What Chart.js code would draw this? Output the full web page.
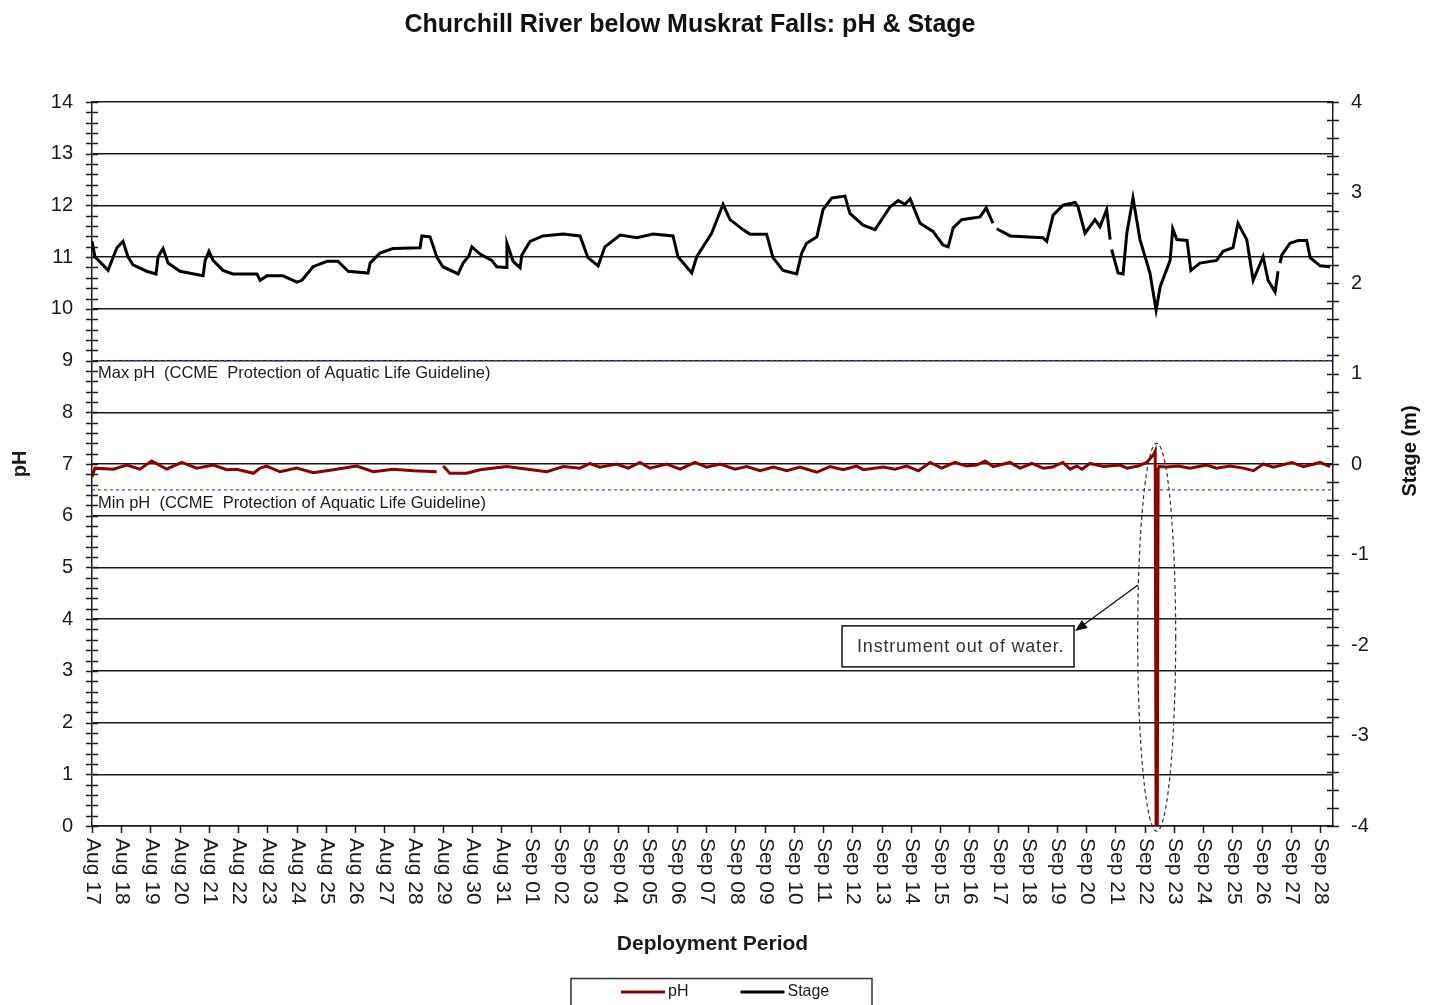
<!DOCTYPE html>
<html>
<head>
<meta charset="utf-8">
<title>Churchill River below Muskrat Falls: pH &amp; Stage</title>
<script src="https://cdn.jsdelivr.net/npm/chart.js@4.4.0/dist/chart.umd.min.js"></script>
<style>
  html, body { margin: 0; padding: 0; background: #fff; }
  #wrap { width: 1437px; height: 1005px; }
</style>
</head>
<body>
<div id="wrap"><canvas id="chart" width="1437" height="1005"></canvas></div>
<script>
// x values are days since Aug 17 00:00
var dayLabels = [
  "Aug 17", "Aug 18", "Aug 19", "Aug 20", "Aug 21", "Aug 22", "Aug 23", "Aug 24",
  "Aug 25", "Aug 26", "Aug 27", "Aug 28", "Aug 29", "Aug 30", "Aug 31", "Sep 01",
  "Sep 02", "Sep 03", "Sep 04", "Sep 05", "Sep 06", "Sep 07", "Sep 08", "Sep 09",
  "Sep 10", "Sep 11", "Sep 12", "Sep 13", "Sep 14", "Sep 15", "Sep 16", "Sep 17",
  "Sep 18", "Sep 19", "Sep 20", "Sep 21", "Sep 22", "Sep 23", "Sep 24", "Sep 25",
  "Sep 26", "Sep 27", "Sep 28"
];
var dayMax = 42.44;

var phDay = [0.00, 0.10, 0.73, 1.19, 1.64, 2.04, 2.55, 3.07, 3.58, 4.15, 4.61, 4.95, 5.52, 5.75, 5.97,
  6.43, 7.00, 7.57, 8.25, 9.05, 9.62, 10.30, 10.99, 11.79, 11.90, 12.01, 12.24, 12.81, 13.27, 14.18,
  14.64, 15.55, 16.12, 16.69, 17.03, 17.37, 17.94, 18.34, 18.74, 19.08, 19.65, 20.11, 20.62, 21.02,
  21.48, 21.99, 22.39, 22.85, 23.30, 23.76, 24.21, 24.78, 25.24, 25.69, 26.15, 26.38, 27.06, 27.46,
  27.86, 28.26, 28.66, 29.06, 29.51, 29.91, 30.26, 30.54, 30.82, 31.39, 31.74, 32.14, 32.53, 32.85,
  33.20, 33.45, 33.68, 33.85, 34.13, 34.60, 35.16, 35.39, 35.78, 36.07, 36.30, 36.36, 36.39, 36.43,
  36.46, 36.49, 36.75, 37.15, 37.55, 38.12, 38.46, 38.92, 39.37, 39.72, 40.06, 40.40, 41.03, 41.43,
  42.00, 42.34];
var phValue = [6.75, 6.92, 6.90, 6.98, 6.90, 7.06, 6.90, 7.03, 6.92, 6.98, 6.89, 6.90, 6.82, 6.92, 6.96,
  6.85, 6.92, 6.83, 6.89, 6.96, 6.85, 6.90, 6.87, 6.85, null, 6.96, 6.82, 6.82, 6.89, 6.95,
  6.92, 6.85, 6.95, 6.92, 7.01, 6.94, 7.00, 6.92, 7.03, 6.92, 7.00, 6.90, 7.03, 6.94,
  7.00, 6.90, 6.95, 6.87, 6.94, 6.87, 6.94, 6.84, 6.95, 6.89, 6.96, 6.89, 6.94, 6.90,
  6.96, 6.87, 7.03, 6.92, 7.03, 6.96, 6.98, 7.06, 6.95, 7.03, 6.92, 7.01, 6.92, 6.94,
  7.03, 6.90, 6.96, 6.90, 7.01, 6.95, 6.98, 6.92, 6.96, 7.03, 7.18, 7.25, 0.00, 0.00,
  6.90, 6.95, 6.94, 6.96, 6.92, 6.98, 6.92, 6.96, 6.92, 6.87, 7.00, 6.94, 7.03, 6.95,
  7.03, 6.95];

var stageDay = [0.00, 0.10, 0.55, 0.85, 1.06, 1.23, 1.40, 1.87, 2.19, 2.26, 2.43, 2.60, 3.01, 3.80, 3.87,
  4.00, 4.14, 4.48, 4.82, 5.64, 5.75, 5.99, 6.53, 7.01, 7.18, 7.56, 8.04, 8.41, 8.76, 9.44, 9.51,
  9.85, 10.29, 11.22, 11.28, 11.56, 11.80, 12.00, 12.52, 12.69, 12.89, 12.99, 13.27, 13.67, 13.84,
  14.16, 14.19, 14.40, 14.64, 14.70, 14.98, 15.42, 16.11, 16.69, 16.96, 17.31, 17.54, 18.06, 18.63,
  19.19, 19.87, 20.04, 20.51, 20.68, 21.19, 21.58, 21.82, 22.26, 22.50, 23.07, 23.29, 23.63, 24.10,
  24.27, 24.44, 24.79, 25.00, 25.30, 25.75, 25.92, 26.37, 26.78, 27.29, 27.57, 27.80, 27.98, 28.32,
  28.76, 29.10, 29.28, 29.45, 29.74, 30.37, 30.58, 30.81, 30.87, 30.94, 31.40, 32.52, 32.65, 32.87,
  33.21, 33.62, 33.72, 33.96, 34.30, 34.47, 34.70, 34.82, 34.84, 34.87, 35.09, 35.26, 35.39, 35.60,
  35.84, 36.18, 36.39, 36.53, 36.87, 36.96, 37.10, 37.45, 37.58, 37.89, 38.46, 38.68, 39.02, 39.19,
  39.49, 39.71, 40.05, 40.22, 40.46, 40.56, 40.60, 40.63, 40.69, 40.97, 41.25, 41.54, 41.66, 42.00,
  42.34];
var stageValue = [2.46, 2.29, 2.14, 2.39, 2.46, 2.29, 2.20, 2.13, 2.10, 2.29, 2.38, 2.22, 2.13, 2.08, 2.25,
  2.35, 2.25, 2.14, 2.10, 2.10, 2.03, 2.08, 2.08, 2.01, 2.03, 2.18, 2.24, 2.24, 2.13, 2.11, 2.22,
  2.33, 2.38, 2.39, 2.52, 2.51, 2.28, 2.18, 2.10, 2.22, 2.30, 2.40, 2.32, 2.25, 2.18,
  2.17, 2.44, 2.24, 2.17, 2.31, 2.46, 2.52, 2.54, 2.52, 2.28, 2.19, 2.40, 2.53, 2.50,
  2.54, 2.52, 2.29, 2.11, 2.29, 2.55, 2.87, 2.70, 2.59, 2.54, 2.54, 2.28, 2.14, 2.10,
  2.33, 2.44, 2.51, 2.81, 2.94, 2.96, 2.77, 2.64, 2.59, 2.84, 2.91, 2.87, 2.93, 2.66,
  2.57, 2.42, 2.40, 2.61, 2.70, 2.73, 2.83, 2.66, null, 2.60, 2.52, 2.50, 2.46, 2.75,
  2.86, 2.89, 2.84, 2.55, 2.70, 2.62, 2.81, 2.48, null, 2.37, 2.11, 2.10, 2.55, 2.94,
  2.48, 2.11, 1.70, 1.96, 2.25, 2.60, 2.48, 2.47, 2.14, 2.22, 2.25, 2.35, 2.39, 2.66,
  2.48, 2.03, 2.29, 2.03, 1.90, 2.13, null, 2.22, 2.31, 2.44, 2.47, 2.47, 2.28, 2.19,
  2.18];

var phMaxGuide = 9;
var phMinGuide = 6.5;
var guideText = ["Max pH  (CCME  Protection of Aquatic Life Guideline)",
                 "Min pH  (CCME  Protection of Aquatic Life Guideline)"];

function pairs(xs, ys) {
  return xs.map(function(x, i) { return {x: x, y: ys[i]}; });
}

var FONT = "'Liberation Sans', Arial, sans-serif";
var INK = '#1a1a1a';

// callout for the out-of-water spike, placed in data units
var note = {
  text: 'Instrument out of water.',
  boxDay: 25.65, boxPh: 3.87, boxW: 232, boxH: 41,
  fromDay: 35.77, fromPh: 4.66, toDay: 33.62, toPh: 3.77,
  ringDay: 36.41, ringPh: 3.65, ringRx: 0.65, ringRy: 3.75
};

var decor = {
  id: 'decor',
  afterDatasetsDraw: function(chart) {
    var ctx = chart.ctx, a = chart.chartArea;
    var x = chart.scales.x, y = chart.scales.y, y1 = chart.scales.y1;
    ctx.save();

    // guideline captions
    ctx.fillStyle = INK;
    ctx.font = '16.5px ' + FONT;
    ctx.textAlign = 'left';
    ctx.textBaseline = 'middle';
    ctx.fillText(guideText[0], a.left + 6, y.getPixelForValue(phMaxGuide) + 13);
    ctx.fillText(guideText[1], a.left + 6, y.getPixelForValue(phMinGuide) + 14);

    // dashed ring round the spike
    var cx = x.getPixelForValue(note.ringDay), cy = y.getPixelForValue(note.ringPh);
    var rx = x.getPixelForValue(note.ringDay + note.ringRx) - cx;
    var ry = cy - y.getPixelForValue(note.ringPh + note.ringRy);
    ctx.setLineDash([4, 3]);
    ctx.strokeStyle = '#333';
    ctx.lineWidth = 1.2;
    ctx.beginPath();
    ctx.ellipse(cx, cy, rx, ry, 0, 0, Math.PI * 2);
    ctx.stroke();
    ctx.setLineDash([]);

    // callout box
    var bx = x.getPixelForValue(note.boxDay), by = y.getPixelForValue(note.boxPh);
    ctx.fillStyle = '#fff';
    ctx.fillRect(bx, by, note.boxW, note.boxH);
    ctx.strokeStyle = '#111';
    ctx.lineWidth = 1.5;
    ctx.strokeRect(bx, by, note.boxW, note.boxH);
    ctx.fillStyle = '#333';
    ctx.font = '18px ' + FONT;
    ctx.letterSpacing = '0.8px';
    ctx.fillText(note.text, bx + 15, by + note.boxH / 2 + 1);
    ctx.letterSpacing = '0px';

    // arrow
    var x0 = x.getPixelForValue(note.fromDay), y0 = y.getPixelForValue(note.fromPh);
    var x2 = x.getPixelForValue(note.toDay), y2 = y.getPixelForValue(note.toPh);
    var ang = Math.atan2(y2 - y0, x2 - x0);
    ctx.strokeStyle = '#111';
    ctx.lineWidth = 1.3;
    ctx.beginPath();
    ctx.moveTo(x0, y0);
    ctx.lineTo(x2 - 8 * Math.cos(ang), y2 - 8 * Math.sin(ang));
    ctx.stroke();
    ctx.fillStyle = '#111';
    ctx.beginPath();
    ctx.moveTo(x2, y2);
    ctx.lineTo(x2 - 12 * Math.cos(ang) + 5 * Math.sin(ang), y2 - 12 * Math.sin(ang) - 5 * Math.cos(ang));
    ctx.lineTo(x2 - 12 * Math.cos(ang) - 5 * Math.sin(ang), y2 - 12 * Math.sin(ang) + 5 * Math.cos(ang));
    ctx.closePath();
    ctx.fill();

    ctx.restore();
  },
  afterDraw: function(chart) {
    var ctx = chart.ctx, a = chart.chartArea;
    var x = chart.scales.x, y = chart.scales.y, y1 = chart.scales.y1;
    var i, p;
    ctx.save();

    // minor tick marks crossing both value axes, 0.2 steps
    ctx.strokeStyle = INK;
    ctx.lineWidth = 1.5;
    ctx.beginPath();
    for (i = 0; i <= 70; i++) {
      p = Math.round(y.getPixelForValue(i * 0.2)) + 0.5;
      ctx.moveTo(a.left - 6, p); ctx.lineTo(a.left + 6, p);
    }
    for (i = 0; i <= 40; i++) {
      p = Math.round(y1.getPixelForValue(-4 + i * 0.2)) + 0.5;
      ctx.moveTo(a.right - 6, p); ctx.lineTo(a.right + 6, p);
    }
    for (i = 0; i < dayLabels.length; i++) {
      p = Math.round(x.getPixelForValue(i)) + 0.5;
      ctx.moveTo(p, a.bottom); ctx.lineTo(p, a.bottom + 7);
    }
    ctx.stroke();

    // day labels, rotated to read downwards
    ctx.fillStyle = INK;
    ctx.font = '21px ' + FONT;
    ctx.textAlign = 'left';
    ctx.textBaseline = 'middle';
    for (i = 0; i < dayLabels.length; i++) {
      ctx.save();
      ctx.translate(x.getPixelForValue(i) + 1, a.bottom + 12);
      ctx.rotate(Math.PI / 2);
      ctx.fillText(dayLabels[i], 0, 0);
      ctx.restore();
    }

    // main title
    ctx.fillStyle = '#111';
    ctx.font = 'bold 25px ' + FONT;
    ctx.textAlign = 'center';
    ctx.fillText('Churchill River below Muskrat Falls: pH & Stage', 690, 25);

    // right axis title
    ctx.save();
    ctx.translate(a.right + 77, (a.top + a.bottom) / 2 - 13);
    ctx.rotate(-Math.PI / 2);
    ctx.font = 'bold 20px ' + FONT;
    ctx.fillText('Stage (m)', 0, 0);
    ctx.restore();

    // legend
    var lx = 571, ly = 978.5;
    ctx.strokeStyle = '#333';
    ctx.lineWidth = 1.5;
    ctx.strokeRect(lx, ly, 301, 40);
    ctx.font = '16px ' + FONT;
    ctx.textAlign = 'left';
    var cur = lx + 50;
    chart.data.datasets.forEach(function(ds) {
      if (ds.inLegend === false) return;
      ctx.strokeStyle = ds.borderColor;
      ctx.lineWidth = 3;
      ctx.beginPath();
      ctx.moveTo(cur, ly + 13.5); ctx.lineTo(cur + 44, ly + 13.5);
      ctx.stroke();
      ctx.fillStyle = INK;
      ctx.fillText(ds.label, cur + 47, ly + 13);
      cur += 47 + ctx.measureText(ds.label).width + 52;
    });

    ctx.restore();
  }
};

new Chart(document.getElementById('chart'), {
  type: 'line',
  data: {
    datasets: [
      {label: 'pH', data: pairs(phDay, phValue), yAxisID: 'y', borderColor: '#8b0000',
       borderWidth: 3, pointRadius: 0, tension: 0, spanGaps: false},
      {label: 'Stage', data: pairs(stageDay, stageValue), yAxisID: 'y1', borderColor: '#000',
       borderWidth: 3, pointRadius: 0, tension: 0, spanGaps: false},
      {label: 'Max pH', data: [{x: 0, y: phMaxGuide}, {x: dayMax, y: phMaxGuide}], yAxisID: 'y',
       borderColor: '#3a3aff', borderWidth: 1.2, borderDash: [3, 3], pointRadius: 0, inLegend: false},
      {label: 'Min pH', data: [{x: 0, y: phMinGuide}, {x: dayMax, y: phMinGuide}], yAxisID: 'y',
       borderColor: '#3a3aff', borderWidth: 1.2, borderDash: [3, 3], pointRadius: 0, inLegend: false}
    ]
  },
  options: {
    responsive: false,
    animation: false,
    events: [],
    layout: { padding: { top: 102, bottom: 30, left: 0, right: 0 } },
    plugins: {
      legend: { display: false },
      title: { display: false },
      tooltip: { enabled: false }
    },
    scales: {
      x: {
        type: 'linear', min: 0, max: dayMax,
        afterFit: function(s) { s.height = 149; },
        grid: { display: false, drawTicks: false },
        border: { display: true, color: INK, width: 1.5 },
        ticks: { display: false, stepSize: 1 },
        title: { display: true, text: 'Deployment Period', color: INK,
                 font: { family: FONT, size: 21, weight: 'bold' }, padding: { top: 0, bottom: 18 } }
      },
      y: {
        position: 'left', min: 0, max: 14,
        afterFit: function(s) { s.width = 92; },
        grid: { color: INK, lineWidth: 1.5, drawTicks: false },
        border: { display: true, color: INK, width: 1.5 },
        ticks: { stepSize: 1, color: INK, padding: 19, font: { family: FONT, size: 20 } },
        title: { display: true, text: 'pH', color: INK,
                 font: { family: FONT, size: 20, weight: 'bold' }, padding: { top: 8, bottom: 0 } }
      },
      y1: {
        position: 'right', min: -4, max: 4,
        afterFit: function(s) { s.width = 104; },
        grid: { display: false, drawTicks: false },
        border: { display: true, color: INK, width: 1.5 },
        ticks: { stepSize: 1, color: INK, padding: 18, font: { family: FONT, size: 20 } }
      }
    }
  },
  plugins: [decor]
});
</script>
</body>
</html>
